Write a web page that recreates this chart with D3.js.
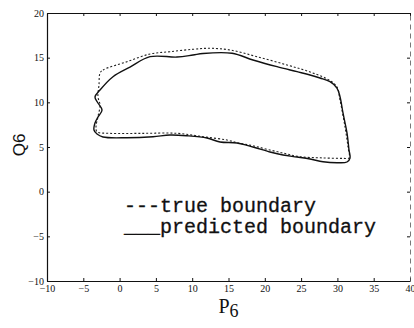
<!DOCTYPE html>
<html>
<head>
<meta charset="utf-8">
<script src="https://cdn.jsdelivr.net/npm/d3@7"></script>
<style>
  body { margin: 0; background: #fff; }
  svg { display: block; }
  .tick text { font-family: "Liberation Serif", "DejaVu Serif", serif; font-size: 10px; fill: #111; }
  .tick line { stroke: #111; }
</style>
</head>
<body>
<div id="chart"></div>
<script>
// axis ticks
const pTicks = [-10, -5, 0, 5, 10, 15, 20, 25, 30, 35, 40];
const qTicks = [-10, -5, 0, 5, 10, 15, 20];

// true boundary (dotted)
const trueP = [-2.70, -2.29, 1.02, 4.19, 6.94, 10.11, 12.45, 15.21, 18.93, 23.06, 26.23, 28.98, 29.94, 30.36, 31.05, 31.46, 31.60,
  30.77, 27.60, 24.85, 23.06, 20.72, 18.37, 16.58, 14.79, 11.49, 7.91, 3.22, -1.32, -3.11, -3.25, -2.98, -2.70, -2.98, -2.84];
const trueQ = [13.28, 13.62, 14.55, 15.41, 15.67, 15.94, 16.05, 15.86, 15.11, 14.18, 13.40, 12.44, 11.72, 10.26, 7.24, 5.00, 3.77,
  3.73, 3.79, 3.91, 4.22, 4.66, 5.14, 5.41, 5.78, 6.15, 6.53, 6.53, 6.53, 6.71, 7.27, 8.39, 9.70, 10.63, 11.94];

// predicted boundary (solid)
const predP = [-2.70, -0.91, 1.43, 4.19, 7.91, 10.11, 11.49, 15.48, 18.37, 21.68, 24.44, 26.23, 27.60, 28.98, 29.94, 30.36, 30.77,
  31.32, 31.60, 31.74, 31.32, 29.94, 28.02, 26.23, 24.44, 22.51, 20.72, 18.37, 16.17, 13.83, 12.04, 9.28, 6.94, 4.60, 1.02,
  -2.29, -3.11, -3.53, -3.39, -2.98, -2.42, -2.98, -3.39];
const predQ = [11.38, 12.87, 13.95, 15.11, 15.07, 15.30, 15.47, 15.49, 14.74, 13.99, 13.43, 13.06, 12.72, 12.31, 11.60, 10.63, 8.81,
  6.57, 4.66, 3.77, 3.32, 3.24, 3.35, 3.66, 3.88, 4.10, 4.44, 5.00, 5.45, 5.56, 6.01, 6.26, 6.34, 6.15, 6.04,
  6.12, 6.45, 6.90, 7.69, 8.36, 9.14, 9.93, 10.60];

const legendLines = ["---true boundary", "___predicted boundary"];

const width = 414, height = 328;
const margin = { top: 13, right: 4, bottom: 47, left: 47 };

const svg = d3.select("#chart").append("svg")
  .attr("width", width)
  .attr("height", height);

const x = d3.scaleLinear().domain([-10, 40]).range([margin.left, width - margin.right]);
const y = d3.scaleLinear().domain([-10, 20]).range([height - margin.bottom, margin.top]);

// axes, ticks pointing inward
svg.append("g")
  .attr("transform", `translate(0,${y(-10)})`)
  .call(d3.axisBottom(x).tickValues(pTicks).tickSizeInner(-3).tickSizeOuter(0).tickPadding(4));
svg.append("g")
  .attr("transform", `translate(0,${y(20)})`)
  .call(d3.axisTop(x).tickValues(pTicks).tickSizeInner(-3).tickSizeOuter(0).tickFormat(""));
svg.append("g")
  .attr("transform", `translate(${x(-10)},0)`)
  .call(d3.axisLeft(y).tickValues(qTicks).tickSizeInner(-3).tickSizeOuter(0).tickPadding(3));
const yRight = svg.append("g")
  .attr("transform", `translate(${x(40)},0)`)
  .call(d3.axisRight(y).tickValues(qTicks).tickSizeInner(-3).tickSizeOuter(0).tickFormat(""));

svg.selectAll(".domain").attr("stroke", "#111").attr("stroke-width", 1.2);
yRight.select(".domain").attr("stroke", "#555").attr("stroke-width", 0.8).attr("stroke-dasharray", "5,4");

// boundaries
const line = d3.line()
  .x(d => x(d[0]))
  .y(d => y(d[1]))
  .curve(d3.curveCatmullRomClosed.alpha(0.5));

svg.append("path")
  .datum(trueP.map((p, i) => [p, trueQ[i]]))
  .attr("fill", "none")
  .attr("stroke", "#222")
  .attr("stroke-width", 1.1)
  .attr("stroke-dasharray", "2,2")
  .attr("d", line);

svg.append("path")
  .datum(predP.map((p, i) => [p, predQ[i]]))
  .attr("fill", "none")
  .attr("stroke", "#111")
  .attr("stroke-width", 1.4)
  .attr("d", line);

// legend text
svg.append("g")
  .selectAll("text")
  .data(legendLines)
  .join("text")
  .attr("x", 124)
  .attr("y", (d, i) => 212 + i * 21)
  .attr("font-family", "'Liberation Mono', monospace")
  .attr("font-size", 20)
  .attr("fill", "#111")
  .attr("stroke", "#111")
  .attr("stroke-width", 0.3)
  .attr("xml:space", "preserve")
  .text(d => d);

// axis titles
const px = svg.append("text")
  .attr("x", (x(-10) + x(40)) / 2)
  .attr("y", 313)
  .attr("text-anchor", "middle")
  .attr("font-family", "'Liberation Serif', serif")
  .attr("font-size", 20)
  .attr("fill", "#111");
px.append("tspan").text("P");
px.append("tspan").attr("dy", 4).attr("font-size", 18).text("6");

svg.append("text")
  .attr("transform", "translate(25,145) rotate(-90)")
  .attr("text-anchor", "middle")
  .attr("font-family", "'Liberation Sans', sans-serif")
  .attr("font-size", 17)
  .attr("fill", "#111")
  .text("Q6");
</script>
</body>
</html>
